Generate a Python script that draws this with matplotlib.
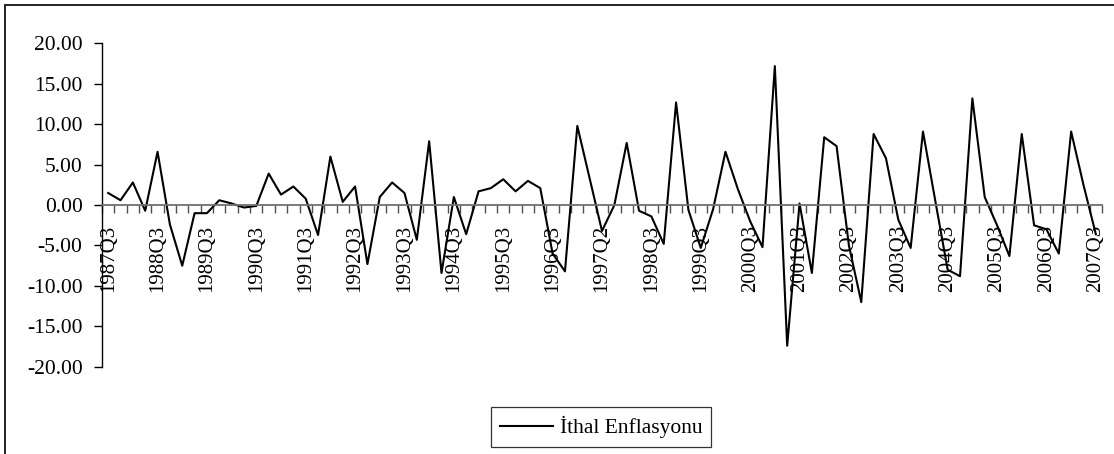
import matplotlib
matplotlib.use("Agg")
import matplotlib.pyplot as plt
from matplotlib.patches import Rectangle
from matplotlib.ticker import FixedLocator, NullFormatter, FixedFormatter, FuncFormatter

plt.rcParams['font.family'] = ['Liberation Serif', 'DejaVu Serif']

# Quarterly series, 1987Q3 .. 2007Q3 (81 observations)
values = [1.5, 0.6, 2.8, -0.7, 6.6, -2.4, -7.5, -1.0, -1.0, 0.6,
          0.2, -0.3, -0.1, 3.9, 1.3, 2.3, 0.8, -3.7, 6.0, 0.4,
          2.3, -7.3, 1.0, 2.8, 1.5, -4.3, 7.9, -8.4, 1.0, -3.6,
          1.7, 2.1, 3.2, 1.7, 3.0, 2.1, -6.0, -8.2, 9.8, 3.3,
          -3.2, 0.0, 7.7, -0.7, -1.4, -4.8, 12.7, -0.6, -5.3, -0.5,
          6.6, 2.0, -2.0, -5.2, 17.2, -17.4, 0.2, -8.4, 8.4, 7.3,
          -5.0, -12.0, 8.8, 5.8, -1.8, -5.3, 9.1, 0.5, -8.0, -8.8,
          13.2, 1.0, -2.5, -6.3, 8.8, -2.5, -3.0, -6.0, 9.1, 2.5,
          -3.6]
tick_labels = ["1987Q3", "1988Q3", "1989Q3", "1990Q3", "1991Q3", "1992Q3",
               "1993Q3", "1994Q3", "1995Q3", "1996Q3", "1997Q2", "1998Q3",
               "1999Q3", "2000Q3", "2001Q3", "2002Q3", "2003Q3", "2004Q3",
               "2005Q3", "2006Q3", "2007Q3"]
label_step = 4
y_ticks = [-20, -15, -10, -5, 0, 5, 10, 15, 20]
series_name = "İthal Enflasyonu"

W, H = 1114, 454
fig = plt.figure(figsize=(W / 100, H / 100), dpi=100)

# outer chart frame
fig.patches.append(Rectangle((5 / W, -0.1), 1.2, 1 - 5 / H + 0.1,
                             transform=fig.transFigure, fill=False,
                             edgecolor='#222222', linewidth=1.4))

ax = fig.add_axes([102 / W, 1 - 366.7 / H, 1000 / W, (366.7 - 43.5) / H])
x = list(range(len(values)))
line, = ax.plot(x, values, color='black', linewidth=1.5, label=series_name)

ax.set_xlim(-0.5, len(values) - 0.5)
ax.set_ylim(-20, 20)

for s in ['top', 'right']:
    ax.spines[s].set_visible(False)
ax.spines['left'].set_linewidth(1.0)
ax.spines['left'].set_color('black')
ax.spines['bottom'].set_position(('data', 0))
ax.spines['bottom'].set_color('#707070')
ax.spines['bottom'].set_linewidth(1.3)

ax.set_yticks(y_ticks)
ax.yaxis.set_major_formatter(FuncFormatter(lambda v, p: f"{v:.2f}"))
ax.tick_params(axis='y', direction='out', length=6, width=1.0, pad=8,
               labelsize=15.5, colors='black')

boundaries = [i - 0.5 for i in range(len(values) + 1)]
ax.xaxis.set_major_locator(FixedLocator(boundaries))
ax.xaxis.set_major_formatter(NullFormatter())
label_pos = list(range(0, len(values), label_step))
ax.xaxis.set_minor_locator(FixedLocator(label_pos))
ax.xaxis.set_minor_formatter(FixedFormatter(tick_labels))
ax.tick_params(axis='x', which='major', direction='out', length=6,
               width=1.0, color='#505050')
ax.tick_params(axis='x', which='minor', length=0, pad=14,
               labelsize=15, labelrotation=90)
for t in ax.xaxis.get_minor_ticks():
    t.label1.set_verticalalignment('top')
ax.patch.set_visible(False)

leg = fig.legend(handles=[line], loc='center',
                 bbox_to_anchor=(601 / W, 1 - 427 / H),
                 bbox_transform=fig.transFigure, fontsize=15.5,
                 frameon=True, fancybox=False, shadow=False,
                 handlelength=2.5, handletextpad=0.3, borderpad=0.4,
                 borderaxespad=0)
leg.get_frame().set_edgecolor('black')
leg.get_frame().set_linewidth(0.9)

fig.savefig("out.png", dpi=100)
